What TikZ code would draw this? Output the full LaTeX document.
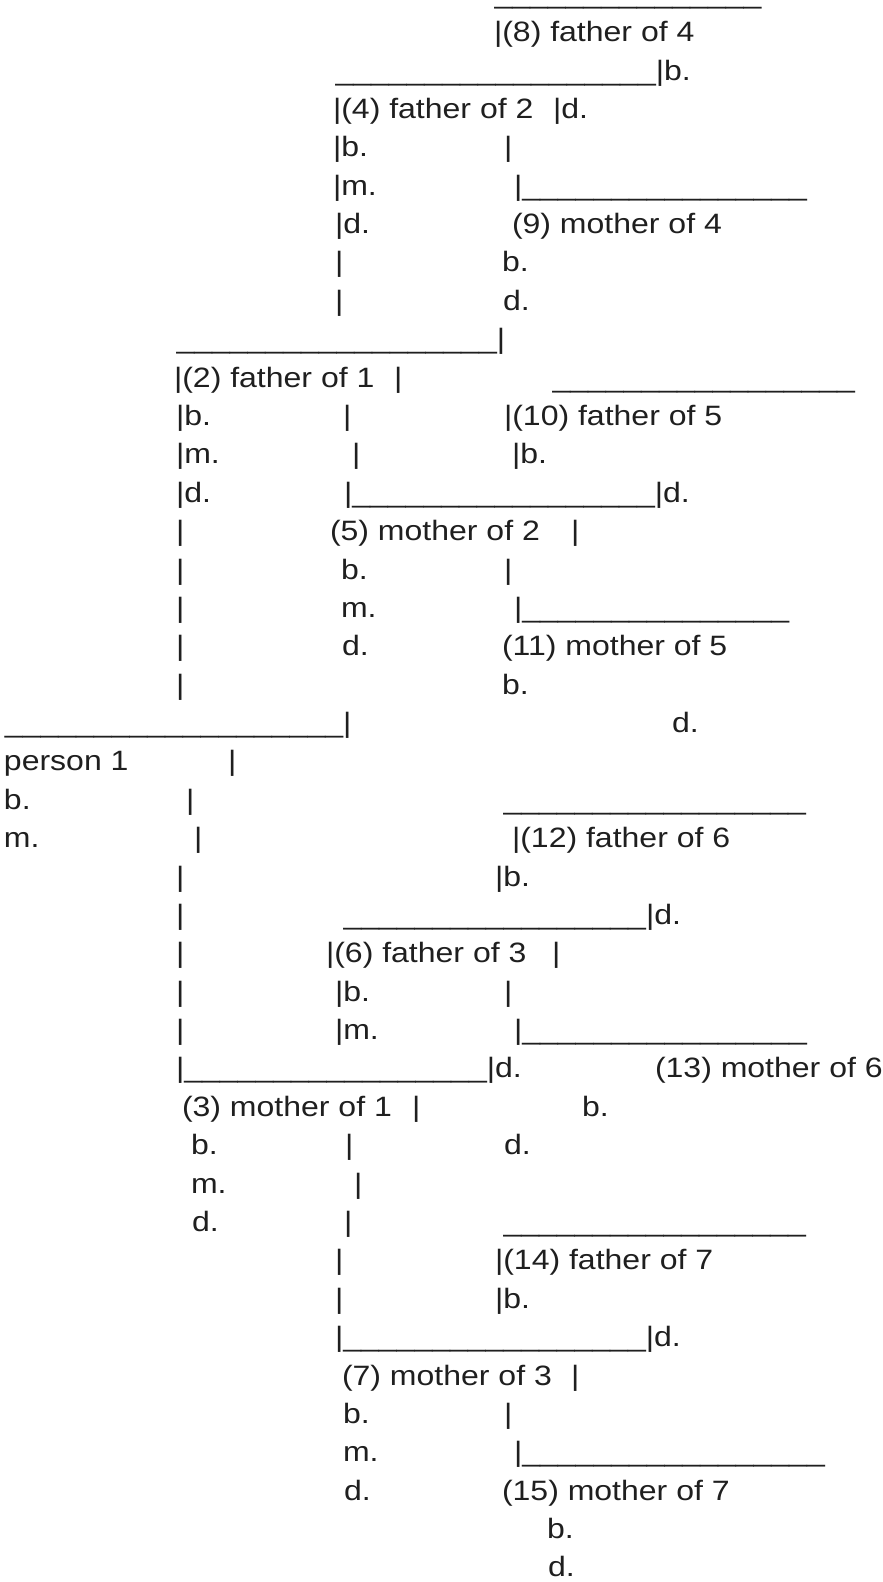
\documentclass[tikz,border=0pt]{standalone}
\usepackage{fontspec}
\setmainfont[FakeStretch=1.143]{Liberation Sans}
\ExplSyntaxOn
\cs_new:Npn \usc #1 { \prg_replicate:nn {#1} {\_} }
\ExplSyntaxOff
\begin{document}
\begin{tikzpicture}[x=1pt,y=-38.38pt,
  t/.style={anchor=base west,inner sep=0pt,outer sep=0pt,yshift=-3.32pt,
    text=black!88,font=\fontsize{28}{34}\selectfont}]
\useasboundingbox[fill=white] (0pt,0pt) rectangle (883pt,-1582pt);
% generation 4 top
\node[t] (l0)  at (494.5,0) {\usc{15}};
\node[t] (l1)  at (494,1)   {|(8) father of 4};
\node[t] (l2)  at (335.5,2) {\usc{18}|b.};
\node[t] (l3a) at (333,3)   {|(4) father of 2};
\node[t] (l3b) at (553,3)   {|d.};
\node[t] (l4a) at (333,4)   {|b.};
\node[t] (l4b) at (504,4)   {|};
\node[t] (l5a) at (333,5)   {|m.};
\node[t] (l5b) at (514,5)   {|\usc{16}};
\node[t] (l6a) at (335,6)   {|d.};
\node[t] (l6b) at (512,6)   {(9) mother of 4};
\node[t] (l7a) at (335,7)   {|};
\node[t] (l7b) at (502,7)   {b.};
\node[t] (l8a) at (335,8)   {|};
\node[t] (l8b) at (503,8)   {d.};
\node[t] (l9)  at (176.5,9) {\usc{18}|};
\node[t] (l10a) at (174,10) {|(2) father of 1};
\node[t] (l10b) at (394,10) {|};
\node[t] (l10c) at (552.5,10) {\usc{17}};
\node[t] (l11a) at (176,11) {|b.};
\node[t] (l11b) at (343,11) {|};
\node[t] (l11c) at (504,11) {|(10) father of 5};
\node[t] (l12a) at (176,12) {|m.};
\node[t] (l12b) at (352,12) {|};
\node[t] (l12c) at (512,12) {|b.};
\node[t] (l13a) at (176,13) {|d.};
\node[t] (l13b) at (344,13) {|\usc{17}|d.};
\node[t] (l14a) at (176,14) {|};
\node[t] (l14b) at (330,14) {(5) mother of 2};
\node[t] (l14c) at (571,14) {|};
\node[t] (l15a) at (176,15) {|};
\node[t] (l15b) at (341,15) {b.};
\node[t] (l15c) at (504,15) {|};
\node[t] (l16a) at (176,16) {|};
\node[t] (l16b) at (341,16) {m.};
\node[t] (l16c) at (514,16) {|\usc{15}};
\node[t] (l17a) at (176,17) {|};
\node[t] (l17b) at (342,17) {d.};
\node[t] (l17c) at (502,17) {(11) mother of 5};
\node[t] (l18a) at (176,18) {|};
\node[t] (l18b) at (502,18) {b.};
\node[t] (l19a) at (5,19)   {\usc{19}|};
\node[t] (l19b) at (672,19) {d.};
% person 1
\node[t] (l20a) at (4,20)   {person 1};
\node[t] (l20b) at (228,20) {|};
\node[t] (l21a) at (4,21)   {b.};
\node[t] (l21b) at (186,21) {|};
\node[t] (l21c) at (503.5,21) {\usc{17}};
\node[t] (l22a) at (4,22)   {m.};
\node[t] (l22b) at (194,22) {|};
\node[t] (l22c) at (512,22) {|(12) father of 6};
\node[t] (l23a) at (176,23) {|};
\node[t] (l23b) at (495,23) {|b.};
\node[t] (l24a) at (176,24) {|};
\node[t] (l24b) at (343.5,24) {\usc{17}|d.};
\node[t] (l25a) at (176,25) {|};
\node[t] (l25b) at (326,25) {|(6) father of 3};
\node[t] (l25c) at (552,25) {|};
\node[t] (l26a) at (176,26) {|};
\node[t] (l26b) at (335,26) {|b.};
\node[t] (l26c) at (504,26) {|};
\node[t] (l27a) at (176,27) {|};
\node[t] (l27b) at (335,27) {|m.};
\node[t] (l27c) at (514,27) {|\usc{16}};
\node[t] (l28a) at (176,28) {|\usc{17}|d.};
\node[t] (l28b) at (655,28) {(13) mother of 6};
\node[t] (l29a) at (182,29) {(3) mother of 1};
\node[t] (l29b) at (412,29) {|};
\node[t] (l29c) at (582,29) {b.};
\node[t] (l30a) at (191,30) {b.};
\node[t] (l30b) at (345,30) {|};
\node[t] (l30c) at (504,30) {d.};
\node[t] (l31a) at (191,31) {m.};
\node[t] (l31b) at (354,31) {|};
\node[t] (l32a) at (192,32) {d.};
\node[t] (l32b) at (344,32) {|};
\node[t] (l32c) at (503.5,32) {\usc{17}};
\node[t] (l33a) at (335,33) {|};
\node[t] (l33b) at (495,33) {|(14) father of 7};
\node[t] (l34a) at (335,34) {|};
\node[t] (l34b) at (495,34) {|b.};
\node[t] (l35)  at (335,35) {|\usc{17}|d.};
\node[t] (l36a) at (342,36) {(7) mother of 3};
\node[t] (l36b) at (571,36) {|};
\node[t] (l37a) at (343,37) {b.};
\node[t] (l37b) at (504,37) {|};
\node[t] (l38a) at (343,38) {m.};
\node[t] (l38b) at (514,38) {|\usc{17}};
\node[t] (l39a) at (344,39) {d.};
\node[t] (l39b) at (502,39) {(15) mother of 7};
\node[t] (l40)  at (547,40) {b.};
\node[t] (l41)  at (548,41) {d.};
\end{tikzpicture}
\end{document}
